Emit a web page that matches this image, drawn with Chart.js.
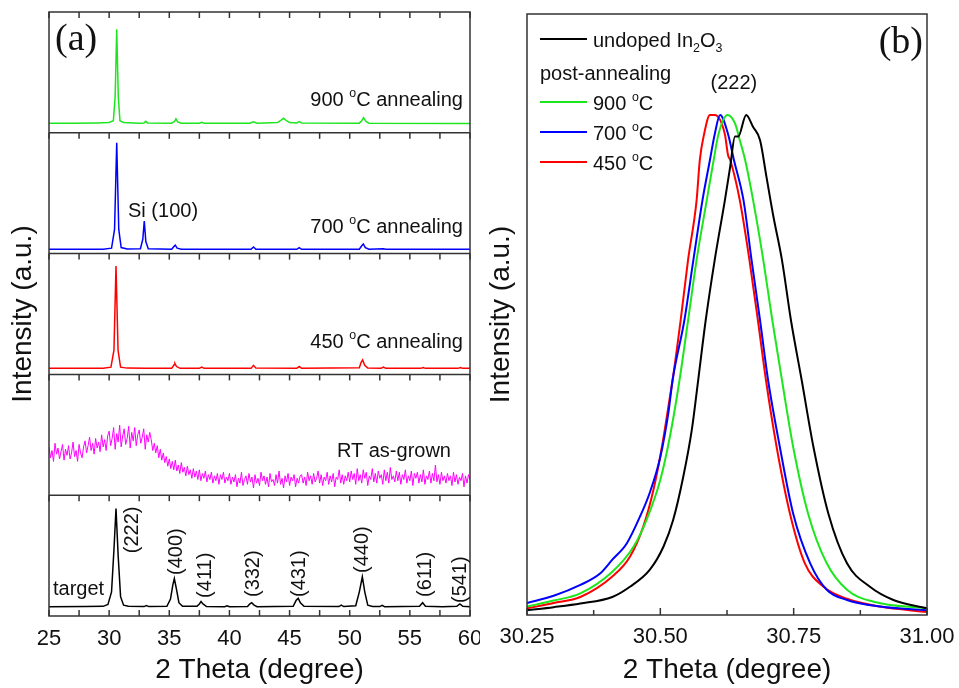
<!DOCTYPE html>
<html>
<head>
<meta charset="utf-8">
<script src="https://cdn.jsdelivr.net/npm/chart.js@4.4.1/dist/chart.umd.min.js"></script>
<style>
  html, body { margin: 0; padding: 0; background: #fff; }
  #chartA { position: absolute; left: 0; top: 0; }
  #chartB { position: absolute; left: 480px; top: 0; }
</style>
</head>
<body>
<canvas id="chartA" width="480" height="688"></canvas>
<canvas id="chartB" width="479" height="688"></canvas>
<script>
// ---------- panel (a): 2 theta (deg), intensity as fraction of its sub-panel ----------
const spec900 = [[25,0.08],[27,0.08],[29,0.082],[30,0.085],[30.35,0.1],[30.5,0.3],[30.63,0.857],[30.76,0.3],[30.9,0.1],[31.2,0.085],
  [32.5,0.08],[32.9,0.082],[33.05,0.095],[33.2,0.082],[35.2,0.08],[35.45,0.095],[35.55,0.115],[35.7,0.09],[36,0.08],
  [37.5,0.08],[37.7,0.087],[37.9,0.08],[41.7,0.08],[42.0,0.092],[42.3,0.08],[44.0,0.085],[44.3,0.105],[44.5,0.12],
  [44.75,0.1],[45.0,0.085],[45.6,0.082],[45.8,0.092],[46.0,0.082],[50.8,0.08],[51.0,0.1],[51.15,0.125],[51.35,0.095],
  [51.6,0.08],[60,0.078]];

const spec700 = [[25,0.036],[29.5,0.036],[30.2,0.045],[30.45,0.2],[30.63,0.918],[30.8,0.2],[31.0,0.05],[31.5,0.038],
  [32.6,0.04],[32.8,0.12],[32.92,0.27],[33.05,0.1],[33.25,0.04],[35.2,0.036],[35.4,0.06],[35.5,0.07],[35.65,0.045],
  [36,0.036],[41.8,0.036],[42.0,0.055],[42.2,0.036],[45.6,0.036],[45.8,0.05],[46.0,0.036],[50.8,0.036],[51.0,0.065],
  [51.13,0.08],[51.3,0.05],[51.6,0.036],[52.8,0.04],[53,0.036],[60,0.036]];

const spec450 = [[25,0.05],[29.5,0.05],[30.15,0.06],[30.4,0.2],[30.57,0.897],[30.74,0.2],[30.95,0.06],[31.5,0.052],
  [33,0.05],[35.2,0.05],[35.4,0.08],[35.47,0.09],[35.6,0.065],[35.9,0.05],[37.5,0.05],[37.7,0.06],[37.9,0.05],
  [41.8,0.05],[42.0,0.075],[42.2,0.052],[45.6,0.05],[45.8,0.065],[46.0,0.05],[50.8,0.055],[50.95,0.1],[51.07,0.12],
  [51.25,0.075],[51.5,0.053],[52.6,0.05],[52.8,0.06],[53,0.05],[55.9,0.05],[56.1,0.056],[56.3,0.05],[59.0,0.05],
  [59.2,0.056],[59.4,0.05],[60,0.05]];

// RT as-grown: read every 0.125 deg from 25 to 60
const rtStart = 25, rtStep = 0.125;
const rtValues = [
  0.40,0.31,0.37,0.28,0.43,0.34,0.39,0.30,0.36,0.42,0.29,0.38,0.33,0.41,0.30,0.35,0.44,0.32,0.37,0.28,0.42,0.35,0.31,0.40,
  0.45,0.35,0.41,0.48,0.37,0.43,0.34,0.47,0.39,0.44,0.36,0.50,0.40,0.46,0.37,0.49,
  0.53,0.41,0.47,0.56,0.38,0.51,0.44,0.58,0.40,0.49,0.55,0.42,0.47,0.57,0.39,0.52,0.45,0.56,0.41,0.50,0.54,0.43,0.48,0.55,0.38,0.50,0.44,0.52,
  0.46,0.37,0.43,0.35,0.41,0.31,0.38,0.29,0.35,0.27,0.32,0.24,0.30,0.22,0.28,0.21,
  0.29,0.20,0.25,0.18,0.27,0.19,0.23,0.16,0.24,0.17,0.21,0.14,0.22,0.15,0.20,0.13,
  0.21,0.12,0.18,0.14,0.20,0.11,0.17,0.13,0.19,0.10,0.16,0.12,0.18,0.09,0.17,0.13,0.19,0.10,0.15,0.12,
  0.18,0.09,0.15,0.11,0.17,0.07,0.14,0.10,0.19,0.08,0.13,0.16,0.09,0.18,0.11,0.15,0.06,0.17,0.10,0.14,0.08,0.19,0.12,0.16,
  0.09,0.15,0.07,0.18,0.11,0.13,0.08,0.17,0.10,0.20,0.09,0.14,0.06,0.16,0.11,0.18,0.08,0.15,0.12,0.17,0.07,0.14,0.10,0.16,
  0.17,0.10,0.15,0.08,0.19,0.12,0.16,0.09,0.18,0.11,0.14,0.20,0.10,0.17,0.08,0.15,0.12,0.19,0.09,0.16,0.11,0.18,0.07,0.15,0.13,0.21,0.10,0.17,0.09,0.16,0.12,0.19,
  0.11,0.20,0.13,0.18,0.09,0.22,0.12,0.17,0.10,0.21,0.14,0.19,0.08,0.16,0.13,0.22,0.11,0.18,0.10,0.20,0.14,0.17,0.09,0.21,0.12,0.19,0.10,0.23,0.13,0.16,0.11,0.20,
  0.12,0.19,0.09,0.17,0.13,0.21,0.10,0.16,0.12,0.20,0.08,0.18,0.14,0.19,0.10,0.17,0.11,0.21,0.09,0.16,0.13,0.20,0.10,0.18,0.12,0.25,0.11,0.17,0.09,0.19,0.12,0.16,
  0.10,0.18,0.12,0.16,0.08,0.19,0.11,0.17,0.09,0.15,0.12,0.18,0.07,0.16,0.10,0.17,0.13];

const specTarget = [[25,0.077],[28,0.078],[29.5,0.08],[29.9,0.095],[30.2,0.2],[30.4,0.55],[30.57,0.89],[30.75,0.5],
  [30.95,0.16],[31.2,0.09],[31.6,0.08],[32.9,0.078],[33.1,0.086],[33.3,0.078],[34.8,0.08],[35.1,0.14],[35.3,0.26],
  [35.42,0.31],[35.6,0.22],[35.8,0.11],[36.1,0.08],[37.3,0.08],[37.5,0.1],[37.64,0.12],[37.8,0.1],[38.1,0.078],
  [39.6,0.077],[39.8,0.085],[40.0,0.077],[41.5,0.078],[41.7,0.1],[41.85,0.11],[42.05,0.09],[42.3,0.077],[45.3,0.08],
  [45.55,0.13],[45.72,0.146],[45.9,0.11],[46.2,0.08],[49.1,0.078],[49.3,0.09],[49.5,0.078],[50.5,0.085],[50.8,0.2],
  [51.05,0.325],[51.25,0.2],[51.5,0.09],[51.9,0.078],[52.5,0.078],[52.7,0.088],[52.9,0.077],[55.8,0.08],[56.06,0.11],
  [56.3,0.08],[57.7,0.077],[58.9,0.08],[59.16,0.1],[59.4,0.08],[60,0.077]];

const peakLabels = ['(222)','(400)','(411)','(332)','(431)','(440)','(611)','(541)'];
const peakLabelX = [31.9, 35.64, 37.97, 41.96, 45.86, 51.1, 56.26, 59.17];
const peakLabelY = [0.52, 0.34, 0.15, 0.157, 0.157, 0.356, 0.157, 0.108];

// ---------- panel (b): (222) peak ----------
const undopedB = [[30.25,0.008],[30.3,0.013],[30.35,0.019],[30.41,0.03],[30.443,0.047],[30.48,0.075],[30.506,0.114],[30.524,0.158],
  [30.543,0.23],[30.559,0.308],[30.571,0.391],[30.585,0.49],[30.602,0.591],[30.621,0.69],[30.631,0.746],[30.64,0.796],
  [30.646,0.796],[30.661,0.832],[30.674,0.812],[30.687,0.79],[30.699,0.729],[30.712,0.663],[30.728,0.591],[30.745,0.49],
  [30.765,0.391],[30.787,0.28],[30.815,0.169],[30.85,0.086],[30.893,0.047],[30.937,0.025],[31.0,0.011]];
const ann900B = [[30.25,0.014],[30.3,0.024],[30.35,0.036],[30.41,0.072],[30.45,0.114],[30.474,0.158],[30.5,0.225],
  [30.518,0.297],[30.536,0.391],[30.552,0.49],[30.568,0.591],[30.587,0.69],[30.6,0.757],[30.609,0.8],[30.626,0.832],
  [30.64,0.818],[30.649,0.79],[30.659,0.757],[30.674,0.69],[30.693,0.591],[30.71,0.49],[30.728,0.391],[30.749,0.28],
  [30.777,0.169],[30.812,0.086],[30.85,0.042],[30.9,0.022],[31.0,0.011]];
const ann700B = [[30.25,0.02],[30.3,0.032],[30.35,0.05],[30.387,0.069],[30.41,0.092],[30.437,0.119],[30.462,0.164],
  [30.48,0.203],[30.5,0.263],[30.515,0.336],[30.523,0.391],[30.545,0.49],[30.562,0.591],[30.579,0.69],[30.593,0.757],
  [30.602,0.8],[30.612,0.832],[30.627,0.8],[30.638,0.757],[30.656,0.69],[30.671,0.591],[30.687,0.49],[30.702,0.391],
  [30.724,0.28],[30.749,0.169],[30.781,0.086],[30.812,0.042],[30.85,0.025],[30.912,0.014],[31.0,0.008]];
const ann450B = [[30.25,0.011],[30.3,0.02],[30.35,0.03],[30.41,0.064],[30.443,0.097],[30.468,0.147],[30.487,0.208],
  [30.503,0.28],[30.518,0.363],[30.523,0.391],[30.538,0.49],[30.552,0.591],[30.568,0.69],[30.574,0.757],[30.582,0.8],
  [30.593,0.832],[30.602,0.832],[30.621,0.8],[30.627,0.765],[30.631,0.757],[30.649,0.69],[30.667,0.591],[30.683,0.49],
  [30.698,0.391],[30.718,0.28],[30.743,0.169],[30.771,0.086],[30.806,0.047],[30.85,0.027],[30.912,0.014],[31.0,0.005]];

const FONT = '"Liberation Sans", Arial, Helvetica, sans-serif';
const SERIF = '"Liberation Serif", "Times New Roman", serif';
const INK = '#111';
const FRAME = '#333';
const GREEN = '#1ee61e';

Chart.defaults.font.family = FONT;
Chart.defaults.color = INK;

function toPoints(pairs, offset) {
  return pairs.map(p => ({ x: p[0], y: p[1] + offset }));
}

// text with small raised / lowered pieces, e.g. the "o" in oC or the 2 in In2O3
function richText(ctx, parts, x, y, size, align) {
  const fontFor = small => (small ? size * 0.62 : size) + 'px ' + FONT;
  const widths = parts.map(p => { ctx.font = fontFor(!!p[1]); return ctx.measureText(p[0]).width; });
  const total = widths.reduce((a, b) => a + b, 0);
  let cx = align === 'right' ? x - total : align === 'center' ? x - total / 2 : x;
  ctx.textAlign = 'left';
  ctx.textBaseline = 'alphabetic';
  parts.forEach((p, i) => {
    ctx.font = fontFor(!!p[1]);
    const dy = p[1] === 'sup' ? -size * 0.45 : p[1] === 'sub' ? size * 0.25 : 0;
    ctx.fillText(p[0], cx, y + dy);
    cx += widths[i];
  });
}

function tickRow(ctx, scale, values, yPix, len) {
  values.forEach(v => {
    const px = scale.getPixelForValue(v);
    ctx.beginPath();
    ctx.moveTo(px, yPix);
    ctx.lineTo(px, yPix + len);
    ctx.stroke();
  });
}

// frame, panel separators, inward ticks and labels of panel (a)
const panelAPlugin = {
  id: 'panelA',
  afterDatasetsDraw(chart) {
    const { ctx, chartArea: ca, scales: { x, y } } = chart;
    ctx.save();
    ctx.strokeStyle = FRAME;
    ctx.lineWidth = 1.5;
    ctx.strokeRect(ca.left, ca.top, ca.right - ca.left, ca.bottom - ca.top);
    const tickVals = [];
    for (let v = x.min; v <= x.max + 1e-9; v += 2.5) tickVals.push(v);
    for (let b = 1; b <= 4; b++) {
      const py = y.getPixelForValue(b);
      ctx.beginPath();
      ctx.moveTo(ca.left, py);
      ctx.lineTo(ca.right, py);
      ctx.stroke();
    }
    for (let b = 1; b <= 5; b++) tickRow(ctx, x, tickVals, y.getPixelForValue(b), 6);
    tickRow(ctx, x, tickVals, y.getPixelForValue(0), -6);

    ctx.fillStyle = INK;
    ctx.font = '38px ' + SERIF;
    ctx.textAlign = 'left';
    ctx.textBaseline = 'alphabetic';
    ctx.fillText('(a)', ca.left + 6, ca.top + 38);

    const right = x.getPixelForValue(59.41);
    richText(ctx, [['900 '], ['o', 'sup'], ['C annealing']], right, y.getPixelForValue(4.222), 20, 'right');
    richText(ctx, [['700 '], ['o', 'sup'], ['C annealing']], right, y.getPixelForValue(3.17), 20, 'right');
    richText(ctx, [['Si (100)']], x.getPixelForValue(31.57), y.getPixelForValue(3.303), 20, 'left');
    richText(ctx, [['450 '], ['o', 'sup'], ['C annealing']], right, y.getPixelForValue(2.219), 20, 'right');
    richText(ctx, [['RT as-grown']], x.getPixelForValue(58.42), y.getPixelForValue(1.316), 20, 'right');
    richText(ctx, [['target']], x.getPixelForValue(25.33), y.getPixelForValue(0.174), 20, 'left');

    ctx.font = '20px ' + FONT;
    ctx.textAlign = 'left';
    ctx.textBaseline = 'middle';
    peakLabels.forEach((t, i) => {
      ctx.save();
      ctx.translate(x.getPixelForValue(peakLabelX[i]), y.getPixelForValue(peakLabelY[i]));
      ctx.rotate(-Math.PI / 2);
      ctx.fillText(t, 0, 0);
      ctx.restore();
    });
    ctx.restore();
  }
};

// frame, ticks, legend and labels of panel (b)
const panelBPlugin = {
  id: 'panelB',
  afterDatasetsDraw(chart) {
    const { ctx, chartArea: ca, scales: { x } } = chart;
    ctx.save();
    ctx.strokeStyle = FRAME;
    ctx.lineWidth = 1.5;
    ctx.strokeRect(ca.left, ca.top, ca.right - ca.left, ca.bottom - ca.top);
    tickRow(ctx, x, [30.25, 30.5, 30.75, 31.0], ca.bottom, -7);
    tickRow(ctx, x, [30.375, 30.625, 30.875], ca.bottom, -5);

    ctx.fillStyle = INK;
    ctx.font = '38px ' + SERIF;
    ctx.textAlign = 'right';
    ctx.textBaseline = 'alphabetic';
    ctx.fillText('(b)', ca.right - 4, ca.top + 39);

    const rows = [
      { dy: 25, base: 33, color: '#000', parts: [['undoped In'], ['2', 'sub'], ['O'], ['3', 'sub']] },
      { dy: 88, base: 96, color: GREEN, parts: [['900 '], ['o', 'sup'], ['C']] },
      { dy: 118, base: 126, color: '#0000ff', parts: [['700 '], ['o', 'sup'], ['C']] },
      { dy: 148, base: 156, color: '#ff0000', parts: [['450 '], ['o', 'sup'], ['C']] }
    ];
    rows.forEach(r => {
      ctx.strokeStyle = r.color;
      ctx.lineWidth = 2;
      ctx.beginPath();
      ctx.moveTo(ca.left + 13, ca.top + r.dy);
      ctx.lineTo(ca.left + 60, ca.top + r.dy);
      ctx.stroke();
      richText(ctx, r.parts, ca.left + 66, ca.top + r.base, 20, 'left');
    });
    richText(ctx, [['post-annealing']], ca.left + 13, ca.top + 66, 20, 'left');
    richText(ctx, [['(222)']], x.getPixelForValue(30.638), ca.top + 75, 20, 'center');
    ctx.restore();
  }
};

const commonOpts = {
  responsive: false,
  animation: false,
  events: [],
  elements: { point: { radius: 0 }, line: { tension: 0 } },
  plugins: { legend: { display: false }, tooltip: { enabled: false } }
};

new Chart(document.getElementById('chartA'), {
  type: 'line',
  data: {
    datasets: [
      { data: toPoints(specTarget, 0), borderColor: '#000', borderWidth: 1.5 },
      { data: rtValues.map((v, i) => ({ x: rtStart + i * rtStep, y: v + 1 })), borderColor: '#ff00ff', borderWidth: 1 },
      { data: toPoints(spec450, 2), borderColor: '#ff0000', borderWidth: 1.5 },
      { data: toPoints(spec700, 3), borderColor: '#0000ff', borderWidth: 1.5 },
      { data: toPoints(spec900, 4), borderColor: GREEN, borderWidth: 1.5 }
    ]
  },
  options: {
    ...commonOpts,
    layout: { padding: { left: 0, right: 10, top: 12, bottom: 0 } },
    scales: {
      x: {
        type: 'linear', min: 25, max: 60,
        ticks: { stepSize: 5, padding: 10, font: { size: 22 }, color: INK, maxRotation: 0, autoSkip: false },
        grid: { display: false, drawTicks: false },
        border: { display: false },
        title: { display: true, text: '2 Theta (degree)', font: { size: 28 }, color: INK, padding: { top: 0, bottom: 1 } },
        afterFit(s) { s.height = 72; s.paddingLeft = 0; s.paddingRight = 0; }
      },
      y: {
        min: 0, max: 5,
        ticks: { display: false },
        grid: { display: false, drawTicks: false },
        border: { display: false },
        title: { display: true, text: 'Intensity (a.u.)', font: { size: 28 }, color: INK, padding: { top: 6, bottom: 0 } },
        afterFit(s) { s.width = 49; }
      }
    }
  },
  plugins: [panelAPlugin]
});

new Chart(document.getElementById('chartB'), {
  type: 'line',
  data: {
    datasets: [
      { data: toPoints(undopedB, 0), borderColor: '#000', borderWidth: 2, cubicInterpolationMode: 'monotone' },
      { data: toPoints(ann900B, 0), borderColor: GREEN, borderWidth: 2, cubicInterpolationMode: 'monotone' },
      { data: toPoints(ann700B, 0), borderColor: '#0000ff', borderWidth: 2, cubicInterpolationMode: 'monotone' },
      { data: toPoints(ann450B, 0), borderColor: '#ff0000', borderWidth: 2, cubicInterpolationMode: 'monotone' }
    ]
  },
  options: {
    ...commonOpts,
    layout: { padding: { left: 0, right: 32, top: 14, bottom: 0 } },
    scales: {
      x: {
        type: 'linear', min: 30.25, max: 31.0,
        ticks: { stepSize: 0.25, padding: 9, font: { size: 22 }, color: INK, maxRotation: 0, autoSkip: false,
                 callback: v => Number(v).toFixed(2) },
        grid: { display: false, drawTicks: false },
        border: { display: false },
        title: { display: true, text: '2 Theta (degree)', font: { size: 28 }, color: INK, padding: { top: 0, bottom: 1 } },
        afterFit(s) { s.height = 73; s.paddingLeft = 0; s.paddingRight = 0; }
      },
      y: {
        min: 0, max: 1,
        ticks: { display: false },
        grid: { display: false, drawTicks: false },
        border: { display: false },
        title: { display: true, text: 'Intensity (a.u.)', font: { size: 28 }, color: INK, padding: { top: 4, bottom: 0 } },
        afterFit(s) { s.width = 47; }
      }
    }
  },
  plugins: [panelBPlugin]
});
</script>
</body>
</html>
